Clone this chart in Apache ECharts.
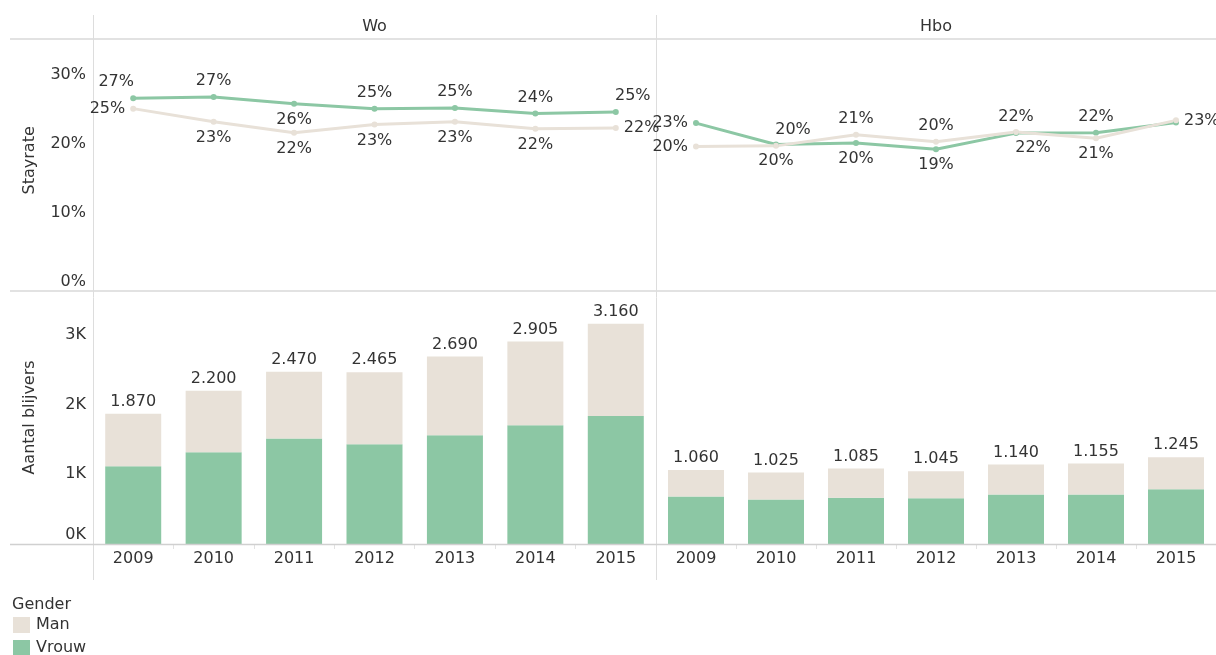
<!DOCTYPE html>
<html><head><meta charset="utf-8">
<script src="https://cdn.jsdelivr.net/npm/echarts@6/dist/echarts.min.js"></script>
<style>html,body{margin:0;padding:0;background:#fff}#c{width:1216px;height:655px}</style>
</head><body><div id="c"></div>
<script>
const years = ['2009','2010','2011','2012','2013','2014','2015'];
const panels = ['Wo','Hbo'];
// Stayrate (fractions)
const woVrouwRate  = [0.266,0.268,0.258,0.251,0.252,0.244,0.246];
const woManRate    = [0.251,0.232,0.216,0.228,0.232,0.222,0.223];
const hboVrouwRate = [0.230,0.199,0.201,0.192,0.2155,0.216,0.231];
const hboManRate   = [0.196,0.197,0.213,0.203,0.217,0.208,0.234];
// Aantal blijvers
const woVrouw  = [1115,1315,1515,1430,1560,1705,1835];
const woMan    = [755,885,955,1035,1130,1200,1325];
const woTotal  = [1870,2200,2470,2465,2690,2905,3160];
const hboVrouw = [680,640,665,655,710,710,785];
const hboMan   = [380,385,420,390,430,445,460];
const hboTotal = [1060,1025,1085,1045,1140,1155,1245];
const rateTicks = [0,0.1,0.2,0.3];
const countTicks = [0,1000,2000,3000];

// label placement styles (t=top, b=bottom, l=left, r=right, tl/tr/bl/br = shifted)
const woVrouwLbl  = ['tl','t','b','t','t','t','tr'];
const woManLbl    = ['l','b','b','b','b','b','r'];
const hboVrouwLbl = ['l','b','b','b','t','t','none'];
const hboManLbl   = ['l','tr','t','t','br','b','r'];

const GREEN = '#8cc7a4', BEIGE = '#e8e1d8', TXT = '#333333';
const FONT = '"DejaVu Sans", sans-serif';
const FS = 16;

function lbl(code){
  if(code==='none') return {show:false};
  const m = {t:['top',[0,0]], b:['bottom',[0,0]], l:['left',[0,0]], r:['right',[0,0]],
    tl:['top',[-17,0]], tr:['top',[17,0]], bl:['bottom',[-17,0]], br:['bottom',[17,0]]};
  return {show:true, position:m[code][0], offset:m[code][1]};
}
function lineData(vals, codes){
  return vals.map((v,i)=>({value:v, label:lbl(codes[i])}));
}
const fmtK = v => String(v).replace(/\B(?=(\d{3})+(?!\d))/g,'.');

const chart = echarts.init(document.getElementById('c'));
const grids = [
  {left:93,width:563,top:39,height:242.7},
  {left:656,width:560,top:39,height:242.7},
  {left:93,width:563,top:291,height:253},
  {left:656,width:560,top:291,height:253}
];
const xAxes = grids.map((g,i)=>({
  type:'category', gridIndex:i, data:years, boundaryGap:true,
  axisLine:{show:false},
  axisTick:{show:i>=2, length:5, lineStyle:{color:'#e2e2e2'}},
  axisLabel:{show:i>=2, margin:7, color:TXT, fontSize:FS, fontFamily:FONT}
}));
const yAxes = [0,1,2,3].map(i=>{
  const isRate = i<2, isLeft = i%2===0;
  return {
    type:'value', gridIndex:i, min:0, max:isRate?0.352:3630, interval:isRate?0.1:1000,
    axisLine:{show:false}, axisTick:{show:false}, splitLine:{show:false},
    name:isLeft?(isRate?'Stayrate':'Aantal blijvers'):'',
    nameLocation:'middle', nameGap:55, nameRotate:90,
    nameTextStyle:{color:TXT, fontSize:FS, fontFamily:FONT},
    axisLabel:{show:isLeft, showMaxLabel:false, margin:7, color:TXT, fontSize:FS, fontFamily:FONT,
      formatter: v => isRate ? (rateTicks.includes(Math.round(v*10)/10) ? Math.round(v*100)+'%' : '')
                             : (v===0 ? '{z|0K}' : (countTicks.includes(v) ? (v/1000)+'K' : '')),
      rich:{z:{padding:[0,0,18,0], color:TXT, fontSize:FS, fontFamily:FONT}}
    }
  };
});

function lineSeries(name, color, data, codes, idx){
  return {type:'line', name, xAxisIndex:idx, yAxisIndex:idx, data:lineData(data,codes),
    symbol:'circle', symbolSize:6, lineStyle:{width:3,color}, itemStyle:{color},
    label:{show:true, distance:5, color:TXT, fontSize:FS, fontFamily:FONT,
      formatter:p=>Math.round(p.value*100)+'%'}, z:3};
}
function barSeries(name, color, data, idx, stack, totals){
  const s = {type:'bar', name, xAxisIndex:idx, yAxisIndex:idx, data, stack, barWidth:56,
    itemStyle:{color}};
  if(totals){
    s.label = {show:true, position:'top', distance:4, color:TXT, fontSize:FS, fontFamily:FONT,
      formatter:p=>fmtK(totals[p.dataIndex])};
  }
  return s;
}

const lineCol = '#d9d9d9';
chart.setOption({
  animation:false,
  textStyle:{fontFamily:FONT},
  grid:grids, xAxis:xAxes, yAxis:yAxes,
  legend:{orient:'vertical', left:13, top:617, height:80, padding:0, itemWidth:17, itemHeight:16, itemGap:7,
    icon:'rect', data:['Man','Vrouw'], textStyle:{color:TXT, fontSize:FS, fontFamily:FONT, padding:[0,0,0,1]},
    selectedMode:false},
  series:[
    lineSeries('Man', BEIGE, woManRate, woManLbl, 0),
    lineSeries('Vrouw', GREEN, woVrouwRate, woVrouwLbl, 0),
    lineSeries('Vrouw', GREEN, hboVrouwRate, hboVrouwLbl, 1),
    lineSeries('Man', BEIGE, hboManRate, hboManLbl, 1),
    barSeries('Vrouw', GREEN, woVrouw, 2, 'wo'),
    barSeries('Man', BEIGE, woMan, 2, 'wo', woTotal),
    barSeries('Vrouw', GREEN, hboVrouw, 3, 'hbo'),
    barSeries('Man', BEIGE, hboMan, 3, 'hbo', hboTotal)
  ],
  graphic:[
    {type:'line', shape:{x1:10,y1:39,x2:1216,y2:39}, style:{stroke:lineCol,lineWidth:1.5}, z:1},
    {type:'line', shape:{x1:10,y1:291,x2:1216,y2:291}, style:{stroke:lineCol,lineWidth:1.5}, z:1},
    {type:'line', shape:{x1:10,y1:544.5,x2:1216,y2:544.5}, style:{stroke:'#d0d0d0',lineWidth:1.5}, z:10},
    {type:'line', shape:{x1:93.5,y1:15,x2:93.5,y2:580}, style:{stroke:'#dddddd',lineWidth:1}, z:1},
    {type:'line', shape:{x1:656.5,y1:15,x2:656.5,y2:580}, style:{stroke:'#dddddd',lineWidth:1}, z:1},
    {type:'text', x:374.5, y:27, style:{text:panels[0], fill:TXT, font:FS+'px '+FONT, textAlign:'center', textVerticalAlign:'middle'}},
    {type:'text', x:936, y:27, style:{text:panels[1], fill:TXT, font:FS+'px '+FONT, textAlign:'center', textVerticalAlign:'middle'}},
    {type:'text', x:12, y:605, style:{text:'Gender', fill:TXT, font:FS+'px '+FONT, textAlign:'left', textVerticalAlign:'middle'}}
  ]
});
</script></body></html>
